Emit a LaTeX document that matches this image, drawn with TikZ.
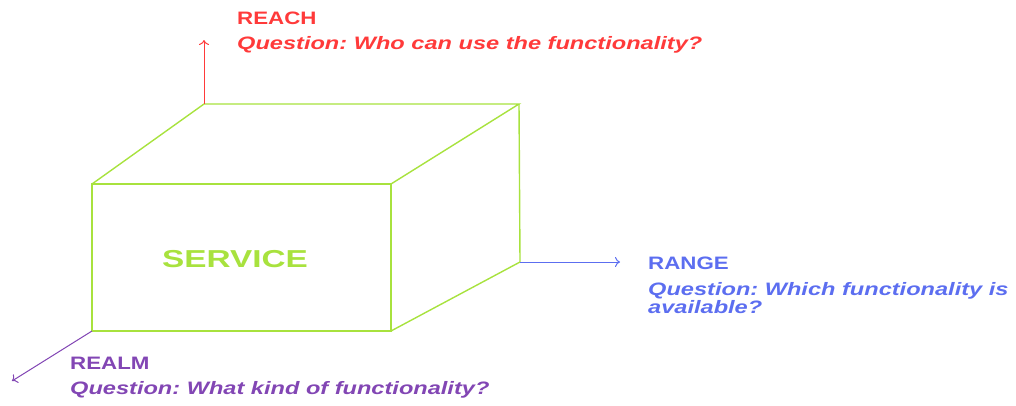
\documentclass[tikz,border=0pt]{standalone}
\usepackage{fontspec}
\setmainfont{Liberation Sans}
\newfontfamily\headfont[FakeStretch=1.24]{Liberation Sans}
\newfontfamily\questfont[FakeStretch=1.31]{Liberation Sans}
\newfontfamily\svcfont[FakeStretch=1.36]{Liberation Sans}
\usetikzlibrary{arrows.meta}
\definecolor{cgreen}{HTML}{A8E23E}
\definecolor{cred}{HTML}{FF3A3A}
\definecolor{cblue}{HTML}{5C6EF0}
\definecolor{cpurple}{HTML}{8246B4}
\begin{document}
\begin{tikzpicture}[x=1pt,y=-1pt,
  edge/.style={draw=cgreen,line width=1.4pt},
  axis/.style={line width=1pt,-{To[length=5pt,width=10pt]}},
  head/.style={font=\headfont\bfseries\fontsize{18}{20}\selectfont,anchor=west,inner sep=0pt},
  quest/.style={font=\questfont\frenchspacing\bfseries\itshape\fontsize{18}{18}\selectfont,anchor=west,inner sep=0pt,align=left}]
\useasboundingbox (0,0) rectangle (1016,405);
% cube corners
\coordinate (ftl) at (92,184);
\coordinate (ftr) at (391,184);
\coordinate (fbr) at (391,331);
\coordinate (fbl) at (92,331);
\coordinate (btl) at (204,104);
\coordinate (btr) at (519,104);
\coordinate (bbr) at (520,262);
\draw[edge] (ftl) -- (ftr) -- (fbr) -- (fbl) -- cycle;
\draw[edge] (ftl) -- (btl) -- (btr) -- (ftr);
\draw[edge] (btr) -- (bbr) -- (fbr);
\node[font=\svcfont\bfseries\fontsize{24.5}{28}\selectfont,text=cgreen] (svc) at (235,259) {SERVICE};
% axes
\coordinate (reachend) at (204,40);
\coordinate (rangeend) at (620,262);
\coordinate (realmend) at (12,381);
\draw[axis,cred] (btl) -- (reachend);
\draw[axis,cblue] (bbr) -- (rangeend);
\draw[axis,cpurple] (fbl) -- (realmend);
% labels
\node[head,text=cred] (reach) at (237,18) {REACH};
\node[quest,text=cred] (reachq) at (237,45) {Question: Who can use the functionality?};
\node[head,text=cblue] (range) at (648,263) {RANGE};
\node[quest,text=cblue,anchor=north west] (rangeq) at (648,282) {Question: Which functionality is\\available?};
\node[head,text=cpurple] (realm) at (70,363) {REALM};
\node[quest,text=cpurple] (realmq) at (70,390) {Question: What kind of functionality?};
\end{tikzpicture}
\end{document}
